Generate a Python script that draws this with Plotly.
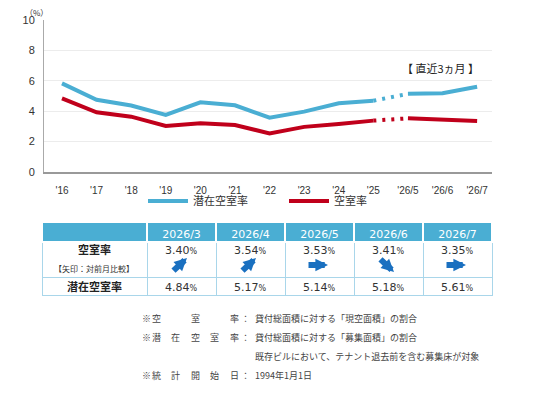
import plotly.graph_objects as go

# ---------------- data ----------------
years = ["'16", "'17", "'18", "'19", "'20", "'21", "'22", "'23", "'24", "'25"]
recent = ["'26/5", "'26/6", "'26/7"]
potential_annual = [5.83, 4.75, 4.37, 3.75, 4.58, 4.39, 3.57, 3.97, 4.52, 4.69]
vacancy_annual = [4.85, 3.93, 3.64, 3.03, 3.20, 3.09, 2.54, 2.97, 3.16, 3.38]
potential_recent = [5.14, 5.18, 5.61]
vacancy_recent = [3.53, 3.41, 3.35]

table_months = ["2026/3", "2026/4", "2026/5", "2026/6", "2026/7"]
table_vacancy = [3.40, 3.54, 3.53, 3.41, 3.35]
table_potential = [4.84, 5.17, 5.14, 5.18, 5.61]
table_trend = ["up", "up", "flat", "down", "flat"]
row_labels = ["空室率", "潜在空室率"]
row_sub_label = "【矢印：対前月比較】"

notes = [
    ("空室率", "貸付総面積に対する「現空面積」の割合"),
    ("潜在空室率", "貸付総面積に対する「募集面積」の割合"),
    ("", "既存ビルにおいて、テナント退去前を含む募集床が対象"),
    ("統計開始日", "1994年1月1日"),
]

BLUE = "#4aaed3"
RED = "#c0001b"
ARROW = "#1a70c0"
OFF = 8                       # page body margin
W, H = 536, 400


def px_x(x):
    return (x - OFF) / W


def px_y(y):
    return 1 - (y - OFF) / H


cats = years + recent
fig = go.Figure()

# chart traces
fig.add_trace(go.Scatter(x=years, y=potential_annual, mode="lines", name="潜在空室率",
                         line=dict(color=BLUE, width=4)))
fig.add_trace(go.Scatter(x=[years[-1], recent[0]], y=[potential_annual[-1], potential_recent[0]],
                         mode="lines", showlegend=False,
                         line=dict(color=BLUE, width=4, dash="3px,6px")))
fig.add_trace(go.Scatter(x=recent, y=potential_recent, mode="lines", showlegend=False,
                         line=dict(color=BLUE, width=4)))
fig.add_trace(go.Scatter(x=years, y=vacancy_annual, mode="lines", name="空室率",
                         line=dict(color=RED, width=4)))
fig.add_trace(go.Scatter(x=[years[-1], recent[0]], y=[vacancy_annual[-1], vacancy_recent[0]],
                         mode="lines", showlegend=False,
                         line=dict(color=RED, width=4, dash="3px,6px")))
fig.add_trace(go.Scatter(x=recent, y=vacancy_recent, mode="lines", showlegend=False,
                         line=dict(color=RED, width=4)))

# ---------------- table grid ----------------
tbl_left, tbl_right = 42, 492
label_w = 105
col_w = (tbl_right - tbl_left - label_w) / 5
row_top, row_mid, row_bot = 222, 277, 295
cell_line = dict(color="#a9d6ea", width=1)

fig.add_trace(go.Table(
    domain=dict(x=[px_x(tbl_left), px_x(tbl_right)], y=[px_y(row_mid + 1), px_y(row_top)]),
    columnwidth=[label_w] + [col_w] * 5,
    header=dict(values=[""] + table_months, fill_color=BLUE, height=20,
                line=dict(color="white", width=1.5),
                font=dict(family="DejaVu Sans", size=11, color="white"), align="center"),
    cells=dict(values=[[""]] * 6, fill_color="white", height=35, line=cell_line),
))
fig.add_trace(go.Table(
    domain=dict(x=[px_x(tbl_left), px_x(tbl_right)], y=[px_y(row_bot + 4), px_y(row_mid)]),
    columnwidth=[label_w] + [col_w] * 5,
    header=dict(values=[""] * 6, fill_color="white", height=18, line=cell_line),
    cells=dict(values=[]),
))

annotations = []
num_font = dict(family="DejaVu Sans", size=11, color="#333")
lab_font = dict(family="Noto Sans CJK JP", size=11, color="#222")
pct = "<span style='font-size:8px'>%</span>"


def ann(x, y, text, font, **kw):
    d = dict(x=px_x(x), y=px_y(y), xref="paper", yref="paper", text=text,
             showarrow=False, font=font, xanchor="center", yanchor="middle")
    d.update(kw)
    annotations.append(d)


label_cx = tbl_left + label_w / 2
ann(label_cx, 249, f"<b>{row_labels[0]}</b>", lab_font)
ann(label_cx - 1, 268, row_sub_label, dict(family="Noto Sans CJK JP", size=8, color="#333"))
ann(label_cx, 286, f"<b>{row_labels[1]}</b>", lab_font)

dx = {"up": 7.5, "flat": 10.5, "down": 7.5}
dy = {"up": -7, "flat": 0, "down": 7}
for i, (v, p, t) in enumerate(zip(table_vacancy, table_potential, table_trend)):
    cx = tbl_left + label_w + (i + 0.5) * col_w
    ann(cx, 250, f"{v:.2f}{pct}", num_font)
    ann(cx, 287, f"{p:.2f}{pct}", num_font)
    # trend arrow: head at (c+dx, y+dy), tail offset back through the centre
    acx = cx - 2
    annotations.append(dict(x=px_x(acx + dx[t]), y=px_y(265 + dy[t]), xref="paper", yref="paper",
                            ax=-2 * dx[t], ay=-2 * dy[t], axref="pixel", ayref="pixel",
                            text="", showarrow=True, arrowhead=2, arrowsize=0.42,
                            arrowwidth=6, arrowcolor=ARROW, standoff=0, startstandoff=0))

# % unit
ann(37, 12, "（%）", dict(family="Noto Sans CJK JP", size=8, color="#333"))
# recent label
ann(440, 68, "【 直近3ヵ月 】", dict(family="Noto Sans CJK JP", size=11, color="#222"))

# footnotes
note_font = dict(family="Noto Sans CJK JP", size=9, color="#444")
line_y = [318, 337, 356, 375]
for (label, content), y in zip(notes, line_y):
    if label:
        ann(146, y, "※", note_font)
        n = len(label)
        for k, ch in enumerate(label):
            ann(156 + (234 - 156) * k / (n - 1), y, ch, note_font)
        ann(245, y, "：", note_font)
    ann(253, y, content, note_font, xanchor="left")

fig.update_layout(
    width=W, height=H,
    margin=dict(l=0, r=0, t=0, b=0),
    paper_bgcolor="white", plot_bgcolor="white",
    showlegend=True,
    legend=dict(orientation="h", x=px_x(143), xanchor="left", y=px_y(201), yanchor="middle",
                font=dict(family="Noto Sans CJK JP", size=11, color="#333"),
                entrywidth=86, entrywidthmode="pixels",
                itemwidth=40, tracegroupgap=0, bgcolor="rgba(0,0,0,0)"),
    xaxis=dict(domain=[px_x(44), px_x(492)], type="category", categoryorder="array",
               categoryarray=cats, range=[-0.52, 12.43], showgrid=False, automargin=False,
               showline=True, linecolor="#999", linewidth=1.5, ticks="",
               ticklabelstandoff=8,
               tickfont=dict(family="Liberation Sans", size=10, color="#333")),
    yaxis=dict(domain=[px_y(172), px_y(20)], range=[0, 10], dtick=2, showgrid=True,
               automargin=False,
               gridcolor="#ececec", showline=True, linecolor="#aaa", linewidth=1,
               ticks="", ticklabelstandoff=6, zeroline=False,
               tickfont=dict(family="Liberation Sans", size=11, color="#333")),
    annotations=annotations,
)

fig.write_html("out.html")
